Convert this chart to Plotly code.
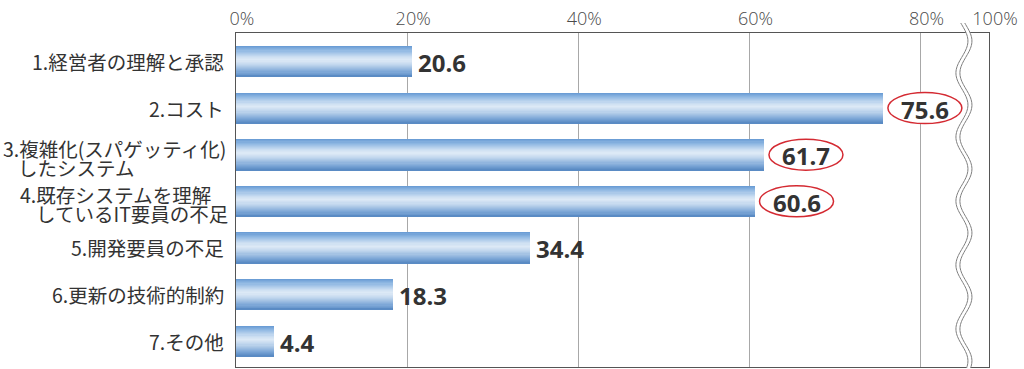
import math
import plotly.graph_objects as go
from plotly.colors import sample_colorscale

# ---------------- data ----------------
categories = [
    "1.経営者の理解と承認",
    "2.コスト",
    "3.複雑化(スパゲッティ化)\nしたシステム",
    "4.既存システムを理解\nしているIT要員の不足",
    "5.開発要員の不足",
    "6.更新の技術的制約",
    "7.その他",
]
values = [20.6, 75.6, 61.7, 60.6, 34.4, 18.3, 4.4]
highlighted = [False, True, True, True, False, False, False]
tick_values = [0, 20, 40, 60, 80, 100]
tick_labels = ["0%", "20%", "40%", "60%", "80%", "100%"]

# ---------------- style ----------------
W, H = 1024, 369
ML, MR, MT, MB = 236, 35, 33, 2
PLOT_W = W - ML - MR
PLOT_H = H - MT - MB
X_MAX = 88.0            # where the (broken) 100% sits on the linear scale
BREAK_X = 85.07         # centre of the wavy axis break (axis units)
BAR_HALF = 0.333
Y_RANGE = [6.556, -0.612]

CJK_FONT = "Noto Sans CJK JP"
NUM_FONT = "Open Sans"
TEXT_COLOR = "#333333"
AXIS_COLOR = "#555555"
GRID_COLOR = "#a8a8a8"
RING_COLOR = "#d42a32"
LABEL_SIZE = 19.5
LINE_GAP_SIZE = 14.5     # base size that sets the tight line spacing of 2-line labels

bar_scale = [
    [0.00, "#6699d3"],
    [0.12, "#8ab4e1"],
    [0.35, "#cddff2"],
    [0.45, "#dde9f6"],
    [0.60, "#c0d6ed"],
    [0.85, "#7aa5d6"],
    [1.00, "#5687c1"],
]
N_LAYERS = 28

# placement of category labels: (xshift px from axis, yshift px, second-line indent px)
label_layout = {
    2: (-8, -3, 15),
    3: (-6, -2.5, 16),
}

fig = go.Figure()

ys = list(range(len(categories)))
xpos = [t if t <= 80 else X_MAX for t in tick_values]

# gradient bars: stacked overlay layers, each trimmed from the top
layer_colors = sample_colorscale(bar_scale, [(k + 0.5) / N_LAYERS for k in range(N_LAYERS)])
dh = 2 * BAR_HALF / N_LAYERS
for k in range(N_LAYERS):
    fig.add_trace(go.Bar(
        x=values, y=ys, orientation="h",
        width=2 * BAR_HALF - k * dh,
        offset=-BAR_HALF + k * dh,
        marker=dict(color=layer_colors[k], line=dict(width=0)),
        opacity=1, hoverinfo="skip", showlegend=False,
    ))

annotations = []
shapes = []

# value labels
for i, (v, hl) in enumerate(zip(values, highlighted)):
    if hl:
        shapes.append(dict(
            type="circle", xref="x", yref="y",
            xsizemode="pixel", xanchor=v, x0=5, x1=79,
            ysizemode="pixel", yanchor=i, y0=-15.5, y1=15.5,
            line=dict(color=RING_COLOR, width=1.5), fillcolor="white", layer="above",
        ))
        annotations.append(dict(
            x=v, y=i, xref="x", yref="y", text=f"{v:.1f}", showarrow=False,
            xanchor="center", xshift=42, yshift=-1,
            font=dict(family=NUM_FONT, size=24, color=TEXT_COLOR, weight="bold"),
        ))
    else:
        annotations.append(dict(
            x=v, y=i, xref="x", yref="y", text=f"{v:.1f}", showarrow=False,
            xanchor="left", xshift=4, yshift=-1,
            font=dict(family=NUM_FONT, size=24, color=TEXT_COLOR, weight="bold"),
        ))

# category labels
for i, cat in enumerate(categories):
    lines = cat.split("\n")
    if len(lines) == 1:
        annotations.append(dict(
            x=0, y=i, xref="paper", yref="y", text=cat, showarrow=False,
            xanchor="right", xshift=-10,
            font=dict(family=CJK_FONT, size=LABEL_SIZE, color=TEXT_COLOR),
        ))
    else:
        xs, ysh, indent = label_layout[i]
        first = f'<span style="font-size:{LABEL_SIZE}px">{lines[0]}</span>'
        second = (f'<span style="font-size:{indent}px">\u3000</span>'
                  f'<span style="font-size:{LABEL_SIZE}px">{lines[1]}</span>')
        annotations.append(dict(
            x=0, y=i, xref="paper", yref="y", text=first + "<br>" + second,
            showarrow=False, xanchor="right", align="left",
            xshift=xs, yshift=ysh,
            font=dict(family=CJK_FONT, size=LINE_GAP_SIZE, color=TEXT_COLOR),
        ))

# wavy axis break (decoration)
def px_to_paper_x(px):
    return (px - ML) / PLOT_W

def px_to_paper_y(py):
    return (H - MB - py) / PLOT_H

break_px = ML + BREAK_X / X_MAX * PLOT_W
pys = [23 + j * 1.5 for j in range(int((368 - 23) / 1.5) + 1)]

def wave(off):
    return [(px_to_paper_x(break_px + off + 6 * math.cos(2 * math.pi * (py - 41) / 64)),
             px_to_paper_y(py)) for py in pys]

left = wave(-2)
right = wave(2)
band = left + right[::-1]
band_path = "M " + " L ".join(f"{x:.5f},{y:.5f}" for x, y in band) + " Z"
shapes.append(dict(type="path", xref="paper", yref="paper", path=band_path,
                   fillcolor="white", line=dict(width=0), layer="above"))
for pts in (left, right):
    p = "M " + " L ".join(f"{x:.5f},{y:.5f}" for x, y in pts)
    shapes.append(dict(type="path", xref="paper", yref="paper", path=p,
                       line=dict(color="#808080", width=1), layer="above"))

fig.update_layout(
    width=W, height=H,
    margin=dict(l=ML, r=MR, t=MT, b=MB, pad=0, autoexpand=False),
    paper_bgcolor="white", plot_bgcolor="white",
    barmode="overlay", bargap=0,
    showlegend=False,
    annotations=annotations, shapes=shapes,
    xaxis=dict(
        side="top", range=[0, X_MAX], tickvals=xpos, ticktext=tick_labels,
        showgrid=True, gridcolor=GRID_COLOR, gridwidth=1,
        showline=True, linecolor=AXIS_COLOR, linewidth=1, mirror=True,
        ticks="", zeroline=False, ticklabelshift=6, automargin=False,
        tickfont=dict(family=NUM_FONT, size=18, color="#4a4a4a", weight=300),
        fixedrange=True,
    ),
    yaxis=dict(
        range=Y_RANGE, showticklabels=False, showgrid=False, zeroline=False,
        showline=True, linecolor=AXIS_COLOR, linewidth=1, mirror=True, ticks="",
        automargin=False, fixedrange=True,
    ),
)

fig.write_html(
    "out.html",
    config={"displayModeBar": False},
    post_script="document.body.style.margin='0';document.body.style.overflow='hidden';",
)
